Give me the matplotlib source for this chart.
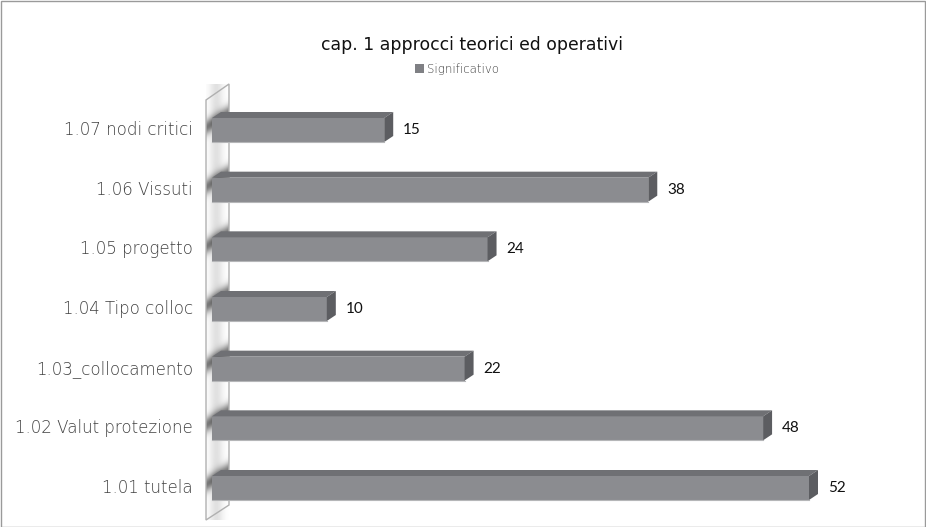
import matplotlib
matplotlib.use("Agg")
import matplotlib.pyplot as plt
from matplotlib.patches import Polygon, Rectangle
import numpy as np

# data
categories = ["1.01 tutela", "1.02 Valut protezione", "1.03_collocamento",
              "1.04 Tipo colloc", "1.05 progetto", "1.06 Vissuti", "1.07 nodi critici"]
values = [52, 48, 22, 10, 24, 38, 15]
title = "cap. 1 approcci teorici ed operativi"
series_name = "Significativo"

W, H = 926, 527
fig = plt.figure(figsize=(W / 100, H / 100), dpi=100)

# axes: x=0 at px 212, x=52 at px 809; cat 0 at py 488, cat 6 at py 130
x0_px, x52_px = 212, 809
unit = (x52_px - x0_px) / 52.0
step = (488 - 130) / 6.0
top_px = 130 - step / 2
bot_px = 488 + step / 2
ax = fig.add_axes([x0_px / W, (H - bot_px) / H, (x52_px - x0_px) / W, (bot_px - top_px) / H])
ax.axis("off")

front = "#8b8c90"
topc = "#6f7074"
side = "#5c5d61"
dx = 9 / unit
dy = 6 / step
h = 24 / step

# back wall with soft diagonal shadows above each bar
wx0, wx1 = -6 / unit, 17 / unit
wyb, wyt = (488 - 520) / step, (488 - 84) / step
slope = (15 / step) / (23 / unit)
wall = [(wx0, wyb), (wx0, (488 - 100) / step), (wx1, wyt), (wx1, (488 - 505) / step)]
gx = np.linspace(wx0, wx1, 60)
gy = np.linspace(wyb, wyt, 400)
GX, GY = np.meshgrid(gx, gy)
yy = GY - (GX - wx0) * slope
shade = np.ones_like(yy)
for yi in range(len(categories)):
    shade -= 0.5 * np.exp(-((yy - (yi + 0.05)) / 0.13) ** 2)
shade -= 0.12 * np.exp(-((GX - (wx0 + 0.45 * (wx1 - wx0))) / 0.6) ** 2)
img = ax.imshow(shade, cmap="gray", vmin=0, vmax=1, aspect="auto", origin="lower",
                extent=(wx0, wx1, wyb, wyt), zorder=1, clip_on=False, interpolation="bilinear")
wp = Polygon(wall, closed=True, facecolor="none", edgecolor="#b0b0b0", lw=1.0,
             zorder=2, clip_on=False)
ax.add_patch(wp)
img.set_clip_path(wp)
ax.set_xlim(0, 52)
ax.set_ylim(-0.5, 6.5)

y = np.arange(len(categories))
ax.barh(y, values, height=h, color=front, edgecolor="none", zorder=3, clip_on=False)
for yi, v, lab in zip(y, values, categories):
    t = yi + h / 2
    b = yi - h / 2
    ax.add_patch(Polygon([(0, t), (v, t), (v + dx, t + dy), (dx, t + dy)],
                         closed=True, facecolor=topc, edgecolor="none", zorder=3, clip_on=False))
    ax.add_patch(Polygon([(v, b), (v, t), (v + dx, t + dy), (v + dx, b + dy)],
                         closed=True, facecolor=side, edgecolor="none", zorder=3, clip_on=False))
    ax.plot([0, v], [b, b], color="#b5b6b8", lw=0.8, zorder=4, clip_on=False)
    ax.text(v + 19 / unit, yi, str(v), ha="left", va="center", fontsize=11,
            family="Lato", color="#111111", clip_on=False)
    ax.text(-19 / unit, yi, lab, ha="right", va="center", fontsize=12,
            family="DejaVu Sans", fontweight="light", color="#404040", clip_on=False)

fig.text(472 / W, 1 - 45 / H, title, ha="center", va="center", fontsize=12.4,
         family="DejaVu Sans", color="#111111")
fig.patches.append(Rectangle((415 / W, 1 - 73 / H), 9 / W, 9 / H, transform=fig.transFigure,
                             facecolor="#7f8084", edgecolor="none"))
fig.text(427 / W, 1 - 69 / H, series_name, ha="left", va="center", fontsize=8.5,
         family="DejaVu Sans", fontweight="light", color="#404040")

fig.patches.append(Rectangle((0.5 / W, 0.5 / H), 1 - 1.5 / W, 1 - 1.5 / H, transform=fig.transFigure,
                             facecolor="none", edgecolor="#9a9a9a", lw=1))

fig.savefig("out.png", dpi=100)
